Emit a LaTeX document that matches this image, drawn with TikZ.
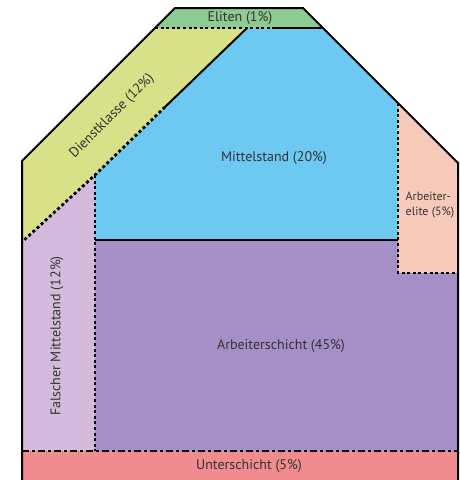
\documentclass[tikz,border=0pt]{standalone}
\usepackage{fontspec}
\setmainfont{PT Sans}
\usepackage{xcolor}
\usetikzlibrary{positioning,calc}

\definecolor{elitegreen}{HTML}{8DCB93}
\definecolor{dienstyellow}{HTML}{D8E088}
\definecolor{mittelblue}{HTML}{6DC9F2}
\definecolor{arbelitepeach}{HTML}{F8CABA}
\definecolor{falschlilac}{HTML}{D4BBDD}
\definecolor{arbviolet}{HTML}{A490C6}
\definecolor{unterred}{HTML}{F08C8D}
\definecolor{labelgray}{HTML}{333333}

\tikzset{
  solidline/.style={line width=2pt, black},
  dotline/.style={line width=2.8pt, black, dash pattern=on 3pt off 2.6pt},
  dashdotline/.style={line width=2.8pt, black, dash pattern=on 7pt off 3pt on 3pt off 3pt},
  classlabel/.style={text=labelgray, font=\fontsize{14}{16}\selectfont, inner sep=1pt}
}

\begin{document}
\begin{tikzpicture}[x=1pt,y=-1pt]
    \useasboundingbox (0,0) rectangle (460,480);

    % Regions
    \fill[elitegreen] (175,8) -- (303,8) -- (323,28) -- (155,28) -- cycle;
    \fill[dienstyellow] (155,28) -- (247,28) -- (95,175) -- (22,242) -- (22,161) -- cycle;
    \fill[mittelblue] (247,28) -- (323,28) -- (398,103) -- (398,240) -- (95,240) -- (95,175) -- cycle;
    \fill[arbelitepeach] (398,103) -- (458,163) -- (458,273) -- (398,273) -- cycle;
    \fill[falschlilac] (22,242) -- (95,175) -- (95,451) -- (22,451) -- cycle;
    \fill[arbviolet] (95,240) -- (398,240) -- (398,273) -- (458,273) -- (458,451) -- (95,451) -- cycle;
    \fill[unterred] (22,451) rectangle (458,480);

    % Borders between classes
    \draw[dotline] (155,28) -- (272,28);
    \draw[solidline] (272,28) -- (323,28);
    \draw[solidline] (247,28) -- (165,107);
    \draw[dotline] (165,107) -- (95,175) -- (22,242);
    \draw[dotline] (95,175) -- (95,451);
    \draw[solidline] (95,240) -- (398,240);
    \draw[dotline] (398,103) -- (398,273) -- (458,273);
    \draw[dashdotline] (22,451) -- (458,451);

    % Outline
    \draw[solidline, line join=miter] (22,482) -- (22,161) -- (175,8) -- (303,8) -- (458,163) -- (458,482);

    % Labels
    \node[classlabel] (eliten) at (240,18) {Eliten (1\%)};
    \node[classlabel, rotate=45] (dienst) at (112,116) {Dienstklasse (12\%)};
    \node[classlabel] (mittel) at (274,158) {Mittelstand (20\%)};
    \node[classlabel, align=left, font=\fontsize{12}{15}\selectfont] (arbelite) at (430,205) {Arbeiter-\\elite (5\%)};
    \node[classlabel, rotate=90] (falsch) at (57,336) {Falscher Mittelstand (12\%)};
    \node[classlabel] (arbeiter) at (281,346) {Arbeiterschicht (45\%)};
    \node[classlabel] (unter) at (249,466) {Unterschicht (5\%)};
\end{tikzpicture}
\end{document}
